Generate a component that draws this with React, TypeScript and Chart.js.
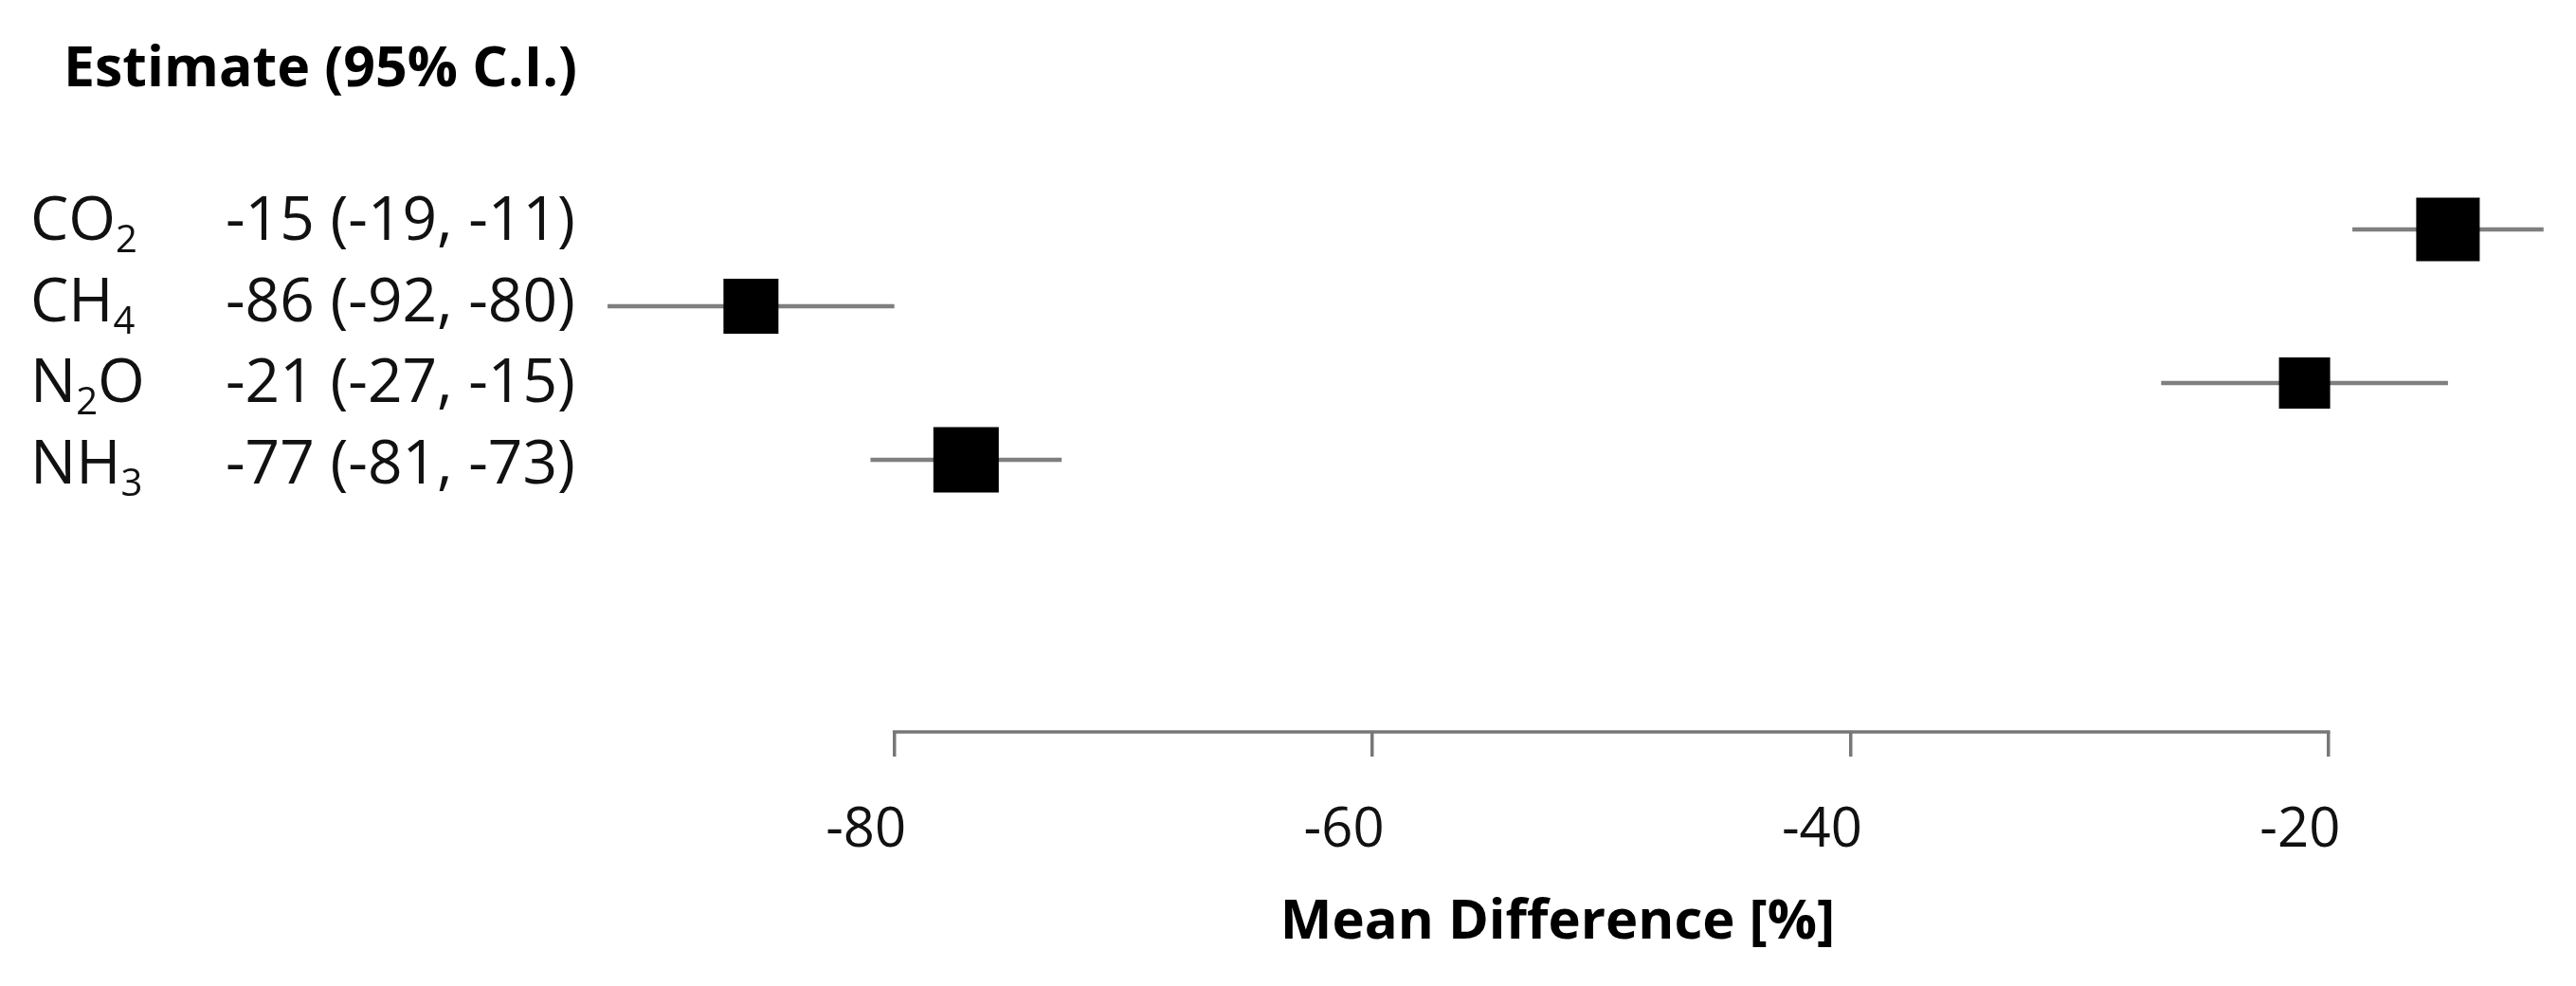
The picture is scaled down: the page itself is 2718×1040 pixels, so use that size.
import React, { useEffect, useRef } from 'react';
import { Chart, registerables } from 'chart.js';

Chart.register(...registerables);

// ---- Data ----
const GASES = ['CO_2', 'CH_4', 'N_2O', 'NH_3'];
const ESTIMATES = [-15, -86, -21, -77];
const LOWER = [-19, -92, -27, -81];
const UPPER = [-11, -80, -15, -73];
const X_TICKS = [-80, -60, -40, -20];
const HEADER = 'Estimate (95% C.I.)';
const X_TITLE = 'Mean Difference [%]';

// ---- Styles ----
const BOX_SIDES = [67, 58, 54, 69];
const AXIS_COLOR = '#777777';
const CI_COLOR = '#7f7f7f';
const FONT = '"Open Sans"';

type Seg = { t: string; sub: boolean };
function parseRich(s: string): Seg[] {
  const segs: Seg[] = [];
  let buf = '';
  let i = 0;
  while (i < s.length) {
    if (s[i] === '_' && i + 1 < s.length) {
      if (buf) segs.push({ t: buf, sub: false });
      buf = '';
      segs.push({ t: s[i + 1], sub: true });
      i += 2;
    } else {
      buf += s[i];
      i++;
    }
  }
  if (buf) segs.push({ t: buf, sub: false });
  return segs;
}

const decorPlugin = {
  id: 'forestDecor',
  afterDraw(chart: any) {
    const { ctx, chartArea } = chart;
    const x = chart.scales.x;
    const y = chart.scales.y;
    ctx.save();
    // partial axis line between first and last tick
    ctx.strokeStyle = AXIS_COLOR;
    ctx.lineWidth = 3.5;
    ctx.beginPath();
    const yb = chartArea.bottom;
    ctx.moveTo(x.getPixelForValue(X_TICKS[0]) - 1.75, yb);
    ctx.lineTo(x.getPixelForValue(X_TICKS[X_TICKS.length - 1]) + 1.75, yb);
    ctx.stroke();

    // header
    ctx.fillStyle = '#000';
    ctx.textAlign = 'left';
    ctx.textBaseline = 'alphabetic';
    ctx.font = `bold 59px ${FONT}`;
    ctx.fillText(HEADER, 67, 91);

    // rows
    GASES.forEach((g, i) => {
      const base = y.getPixelForValue(i) + 11 + 4.6 * i;
      let cx = 32;
      ctx.fillStyle = '#111';
      parseRich(g).forEach((seg) => {
        ctx.font = seg.sub ? `40px ${FONT}` : `64px ${FONT}`;
        ctx.fillText(seg.t, cx, base + (seg.sub ? 13 : 0));
        cx += ctx.measureText(seg.t).width;
      });
      ctx.font = `64px ${FONT}`;
      ctx.fillText(`${ESTIMATES[i]} (${LOWER[i]}, ${UPPER[i]})`, 238, base);
    });
    ctx.restore();
  },
};

export default function App() {
  const canvasRef = useRef<HTMLCanvasElement | null>(null);

  useEffect(() => {
    const canvas = canvasRef.current;
    if (!canvas) return;

    const ciDatasets = GASES.map((g, i) => ({
      type: 'line' as const,
      label: g + ' CI',
      data: [
        { x: LOWER[i], y: i },
        { x: UPPER[i], y: i },
      ],
      borderColor: CI_COLOR,
      borderWidth: 4.5,
      pointRadius: 0,
      showLine: true,
      fill: false,
      clip: false,
      order: 2,
    }));

    const estDataset = {
      type: 'scatter' as const,
      label: 'Estimate',
      data: ESTIMATES.map((e, i) => ({ x: e, y: i })),
      pointStyle: 'rect',
      pointRadius: BOX_SIDES.map((s) => s / Math.SQRT2),
      pointHoverRadius: BOX_SIDES.map((s) => s / Math.SQRT2),
      backgroundColor: '#000',
      borderColor: '#000',
      borderWidth: 0,
      clip: false,
      order: 1,
    };

    const chart = new Chart(canvas, {
      type: 'scatter',
      data: { datasets: [estDataset as any, ...(ciDatasets as any[])] },
      options: {
        animation: false,
        responsive: false,
        devicePixelRatio: 1,
        events: [],
        layout: { autoPadding: false, padding: { left: 578, right: 9, top: 161, bottom: 31.8 } },
        plugins: {
          legend: { display: false },
          tooltip: { enabled: false },
        },
        scales: {
          x: {
            type: 'linear',
            position: 'bottom',
            min: -94.5,
            max: -10,
            afterBuildTicks: (s: any) => {
              s.ticks = X_TICKS.map((v) => ({ value: v }));
            },
            afterFit: (s: any) => {
              s.paddingLeft = 0;
              s.paddingRight = 0;
            },
            grid: {
              display: true,
              drawOnChartArea: false,
              drawTicks: true,
              tickLength: 26,
              color: AXIS_COLOR,
              lineWidth: 3.5,
            },
            border: { display: false },
            ticks: {
              font: { family: FONT, size: 58 },
              color: '#111',
              padding: 44,
              labelOffset: -30,
              callback: (v: any) => String(v),
            },
            title: {
              display: true,
              text: X_TITLE,
              font: { family: FONT, size: 58, weight: 'bold' },
              color: '#000',
              padding: { top: -17, bottom: 0 },
            },
          },
          y: {
            type: 'linear',
            reverse: true,
            min: -1,
            max: 6.543,
            display: false,
          },
        },
      } as any,
      plugins: [decorPlugin],
    });

    return () => chart.destroy();
  }, []);

  return (
    <div
      style={{
        position: 'absolute',
        left: 0,
        top: 0,
        width: 2718,
        height: 1040,
        background: '#fff',
      }}
    >
      <canvas ref={canvasRef} width={2718} height={1040} style={{ width: 2718, height: 1040, display: 'block' }} />
    </div>
  );
}
